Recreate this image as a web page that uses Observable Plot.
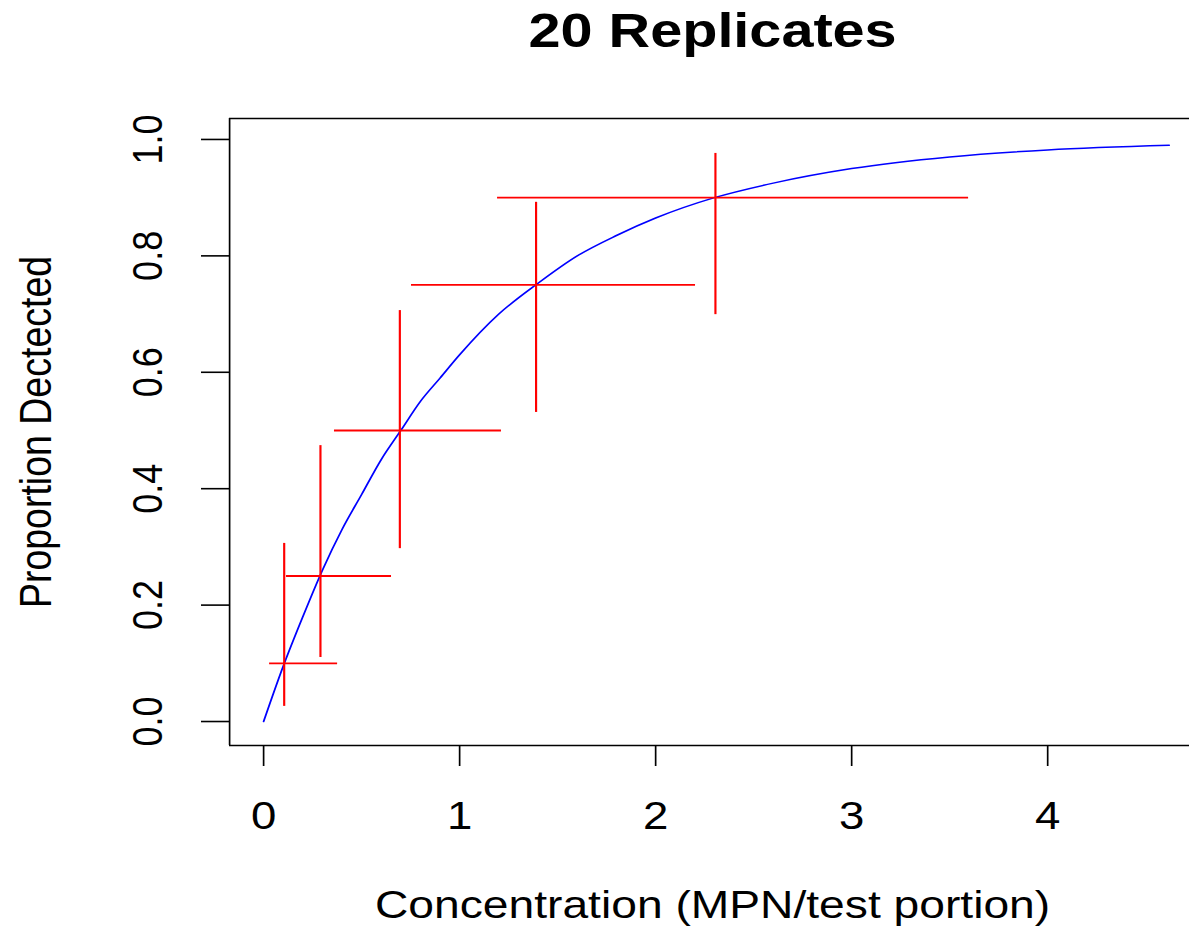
<!DOCTYPE html>
<html><head><meta charset="utf-8">
<script src="https://cdn.jsdelivr.net/npm/d3@7"></script>
<script src="https://cdn.jsdelivr.net/npm/@observablehq/plot@0.6"></script>
<style>
html,body{margin:0;padding:0;background:#fff;}
#chart svg{display:block;}
</style>
</head><body><div id="chart"></div>
<script>
const title = "20 Replicates";
const xLabel = "Concentration (MPN/test portion)";
const yLabel = "Proportion Dectected";
const xTicks = [0, 1, 2, 3, 4];
const yTicks = [0, 0.2, 0.4, 0.6, 0.8, 1.0];

// fitted curve
const curveX = [0, 0.1, 0.2, 0.3, 0.4, 0.5, 0.6, 0.7, 0.8, 0.9, 1.0, 1.2, 1.4, 1.6, 1.8, 2.0, 2.3, 2.6, 3.0, 3.5, 4.0, 4.62];
const curveY = [0, 0.095, 0.18, 0.26, 0.33, 0.39, 0.45, 0.50, 0.55, 0.59, 0.63, 0.70, 0.753, 0.80, 0.835, 0.865, 0.90, 0.925, 0.95, 0.97, 0.982, 0.99];

// observed points with intervals
const pointX = [0.105, 0.29, 0.695, 1.39, 2.305];
const pointY = [0.10, 0.25, 0.50, 0.75, 0.90];
const xLow  = [0.031, 0.117, 0.362, 0.755, 1.194];
const xHigh = [0.378, 0.653, 1.214, 2.204, 3.597];
const yLow  = [0.026, 0.110, 0.297, 0.531, 0.699];
const yHigh = [0.306, 0.474, 0.706, 0.892, 0.976];

const S = 1.2;               // horizontal stretch of the original picture
const PAGE_W = 1189, PAGE_H = 927;
const W = PAGE_W / S;
const xDomain = [-0.1735, 4.724];
const yDomain = [-0.0412, 1.036];

const curve = curveX.map((x, i) => ({x, y: curveY[i]}));
const bars = pointX.map((x, i) => ({x, y: pointY[i], xLo: xLow[i], xHi: xHigh[i], yLo: yLow[i], yHi: yHigh[i]}));

const font = "'Liberation Sans', Arial, sans-serif";

const plot = Plot.plot({
  width: W, height: PAGE_H,
  marginLeft: 229 / S, marginRight: 0, marginTop: 118, marginBottom: 182,
  style: {fontFamily: font, background: "white", color: "black"},
  x: {domain: xDomain},
  y: {domain: yDomain},
  marks: [
    Plot.ruleY([yDomain[0], yDomain[1]], {stroke: "black", strokeWidth: 1.6}),
    Plot.ruleX([xDomain[0]], {stroke: "black", strokeWidth: 1.4}),
    Plot.axisX({ticks: xTicks, tickSize: 21, tickPadding: 36, fontSize: 38, tickFormat: d => String(d), label: null, strokeWidth: 1.4}),
    Plot.axisY({ticks: yTicks, tickSize: 28 / S, tickFormat: () => "", label: null, strokeWidth: 1.6}),
    Plot.text(yTicks, {y: d => d, text: d => d.toFixed(1), frameAnchor: "left", dx: (148 - 229) / S,
      rotate: -90, fontSize: 36, lineAnchor: "middle", textAnchor: "middle"}),
    Plot.line(curve, {x: "x", y: "y", stroke: "#0000ff", strokeWidth: 1.5, curve: "monotone-x"}),
    Plot.ruleY(bars, {y: "y", x1: "xLo", x2: "xHi", stroke: "#ff0000", strokeWidth: 1.8}),
    Plot.ruleX(bars, {x: "x", y1: "yLo", y2: "yHi", stroke: "#ff0000", strokeWidth: 1.8}),
    Plot.text([title], {text: d => d, frameAnchor: "top", dx: 3 / S, dy: 31 - 118, fontSize: 48,
      fontWeight: "bold", lineAnchor: "middle", textAnchor: "middle"}),
    Plot.text([xLabel], {text: d => d, frameAnchor: "bottom", dx: 3 / S, dy: 905 - 745, fontSize: 38.5,
      lineAnchor: "middle", textAnchor: "middle"}),
    Plot.text([yLabel], {text: d => d, frameAnchor: "left", dx: (36 - 229) / S, rotate: -90, fontSize: 37.5,
      lineAnchor: "middle", textAnchor: "middle"})
  ]
});
plot.setAttribute("preserveAspectRatio", "none");
plot.style.width = PAGE_W + "px";
plot.style.height = PAGE_H + "px";
plot.style.maxWidth = "none";
document.getElementById("chart").appendChild(plot);
</script>
</body></html>
